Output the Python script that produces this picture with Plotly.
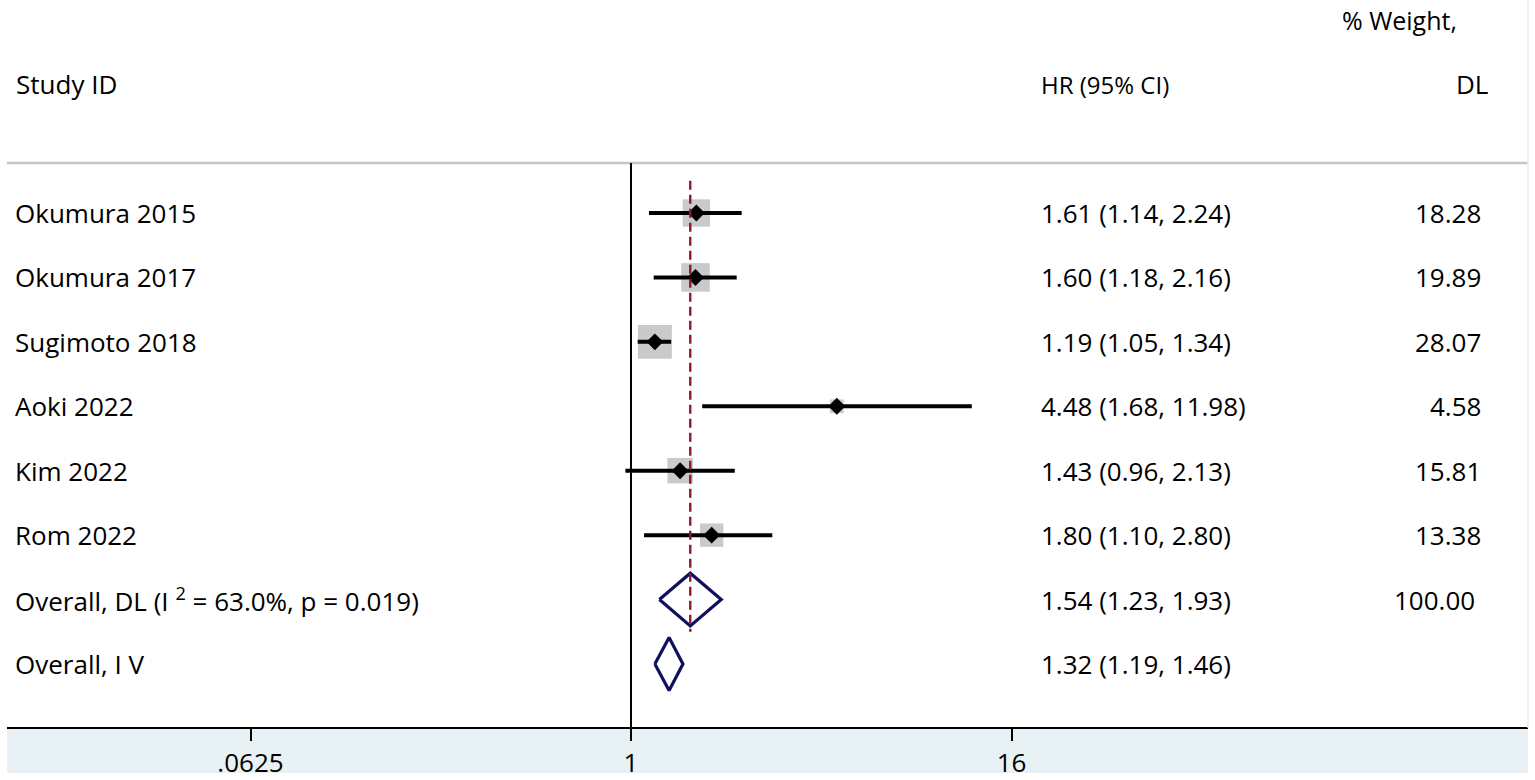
import numpy as np
import plotly.graph_objects as go

# forest plot: HR per study, log scale x

studies = ['Okumura 2015', 'Okumura 2017', 'Sugimoto 2018', 'Aoki 2022', 'Kim 2022', 'Rom 2022']
hr = [1.61, 1.60, 1.19, 4.48, 1.43, 1.80]
lo = [1.14, 1.18, 1.05, 1.68, 0.96, 1.10]
hi = [2.24, 2.16, 1.34, 11.98, 2.13, 2.80]
weight = [18.28, 19.89, 28.07, 4.58, 15.81, 13.38]

overall_labels = ['Overall, DL (I <sup>2</sup> = 63.0%, p = 0.019)', 'Overall, I V']
overall_hr = [1.54, 1.32]
overall_lo = [1.23, 1.19]
overall_hi = [1.93, 1.46]
overall_weight = ['100.00', '']

tick_vals = [0.0625, 1, 16]
tick_text = ['.0625', '1', '16']

W, H = 1535, 780
FONT = 'Open Sans'
FS = 26

n = len(studies)
rows = list(range(1, n + 1))
orows = [n + 1 + i for i in range(len(overall_hr))]

fig = go.Figure()

# weight boxes (drawn first so the CI line sits on top)
fig.add_trace(go.Scatter(
    x=hr, y=rows, mode='markers',
    marker=dict(symbol='square', color='#b3b3b3', size=[6.4 * np.sqrt(w) for w in weight], line=dict(width=0)),
))

# CI lines
xs, ys = [], []
for r, a, b in zip(rows, lo, hi):
    xs += [a, b, None]
    ys += [r, r, None]
fig.add_trace(go.Scatter(x=xs, y=ys, mode='lines', line=dict(color='black', width=4), hoverinfo='skip'))

fig.add_trace(go.Scatter(
    x=hr, y=rows, mode='markers',
    marker=dict(symbol='diamond', color='black', size=13, line=dict(width=0)),
))

# pooled diamonds
for r, e, a, b in zip(orows, overall_hr, overall_lo, overall_hi):
    h = 0.41
    fig.add_trace(go.Scatter(
        x=[a, e, b, e, a], y=[r, r - h, r, r + h, r], mode='lines',
        line=dict(color='#10105c', width=3.2),
    ))

# text columns
ann = []
ann.append(dict(x=14 / W, y=-1, text='Study ID', xanchor='left'))
ann.append(dict(x=1039 / W, y=-1, text='HR (95% CI)', xanchor='left', font=dict(size=24)))
ann.append(dict(x=1459 / W, y=-2, text='% Weight,', xanchor='right', font=dict(size=25)))
ann.append(dict(x=1490 / W, y=-1, text='DL', xanchor='right'))
for r, s, e, a, b, w in zip(rows, studies, hr, lo, hi, weight):
    ann.append(dict(x=13 / W, y=r, text=s, xanchor='left'))
    ann.append(dict(x=1039 / W, y=r, text=f'{e:.2f} ({a:.2f}, {b:.2f})', xanchor='left'))
    ann.append(dict(x=1483 / W, y=r, text=f'{w:.2f}', xanchor='right'))
for r, s, e, a, b, w in zip(orows, overall_labels, overall_hr, overall_lo, overall_hi, overall_weight):
    ann.append(dict(x=13 / W, y=r, text=s, xanchor='left'))
    ann.append(dict(x=1039 / W, y=r, text=f'{e:.2f} ({a:.2f}, {b:.2f})', xanchor='left'))
    if w:
        ann.append(dict(x=1477 / W, y=r, text=w, xanchor='right'))
for a in ann:
    a.update(xref='paper', yref='y', showarrow=False, yanchor='middle')
    a.setdefault('font', dict(size=FS))

# row scale: 64.43 px per row, row 1 at 213 px
px_row = 64.43
y_top = 1 - 213 / px_row
y_bot = 1 + (728 - 213) / px_row
y_rule = 1 + (163 - 213) / px_row
# x scale: 1 at 631 px, 316 px per decade
px_dec = 316.0
x_left = -631 / px_dec
x_right = (W - 631) / px_dec

shapes = [
    # bottom band
    dict(type='rect', xref='paper', yref='paper', x0=7 / W, x1=1528 / W, y0=-45 / 728, y1=0,
         fillcolor='#e8f1f3', line=dict(width=0), layer='below'),
    # header rule
    dict(type='line', xref='paper', yref='y', x0=7 / W, x1=1528 / W, y0=y_rule, y1=y_rule,
         line=dict(color='#c4c4c4', width=2.5)),
    # axis line
    dict(type='line', xref='paper', yref='paper', x0=7 / W, x1=1528 / W, y0=0, y1=0,
         line=dict(color='black', width=2)),
    # null line
    dict(type='line', xref='x', yref='y', x0=1, x1=1, y0=y_rule, y1=y_bot,
         line=dict(color='black', width=2)),
    # pooled estimate line
    dict(type='line', xref='x', yref='y', x0=overall_hr[0], x1=overall_hr[0], y0=0.5, y1=orows[0] + 0.5,
         line=dict(color='#8e1b2a', width=2.4, dash='9px,5px')),
    # right frame edge
    dict(type='line', xref='paper', yref='paper', x0=1528 / W, x1=1528 / W, y0=0, y1=1,
         line=dict(color='#ededed', width=1.5)),
    # clip the tick labels at the bottom
    dict(type='rect', xref='paper', yref='paper', x0=0, x1=1, y0=-52 / 728, y1=-45 / 728,
         fillcolor='white', line=dict(width=0), layer='above'),
]

fig.update_layout(
    width=W, height=H,
    margin=dict(l=0, r=0, t=0, b=52),
    paper_bgcolor='white', plot_bgcolor='white',
    showlegend=False,
    font=dict(family=FONT, size=FS, color='black'),
    annotations=ann,
    shapes=shapes,
)
fig.update_xaxes(
    type='log', range=[x_left, x_right],
    tickvals=tick_vals, ticktext=tick_text,
    ticks='outside', ticklen=12, tickwidth=2, tickcolor='black',
    showgrid=False, zeroline=False, showline=False,
    tickfont=dict(size=FS), ticklabelstandoff=0, automargin=False,
)
fig.update_yaxes(
    range=[y_bot, y_top], visible=False, showgrid=False, zeroline=False, automargin=False,
)

# page body has an 8px default margin; drop it so the figure sits at 0,0
fig.write_html('out.html', config={'displayModeBar': False},
               post_script="document.body.style.margin='0';")
